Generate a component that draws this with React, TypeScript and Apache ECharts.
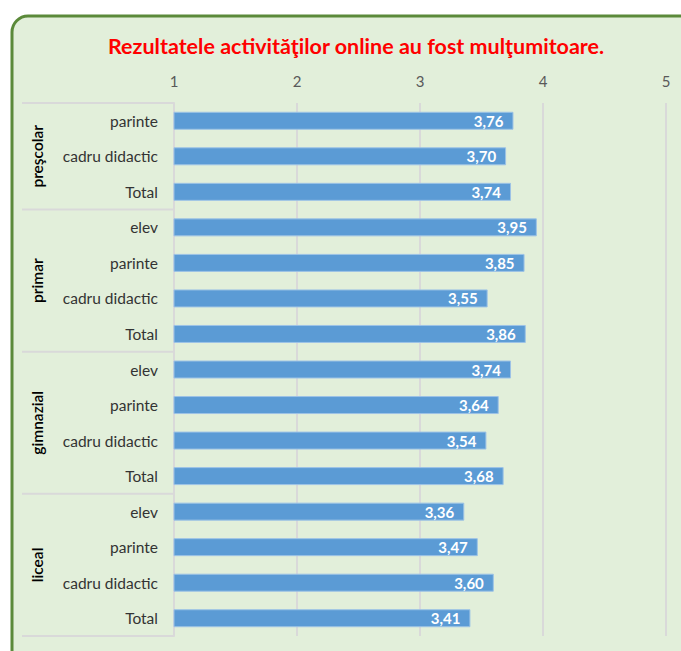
import React, { useEffect, useRef } from "react";
import * as echarts from "echarts";

const chartTitle = "Rezultatele activităţilor online au fost mulţumitoare.";
const groupNames = ["preşcolar", "primar", "gimnazial", "liceal"];
const prescolarCats = ["parinte", "cadru didactic", "Total"];
const prescolarVals = [3.76, 3.7, 3.74];
const primarCats = ["elev", "parinte", "cadru didactic", "Total"];
const primarVals = [3.95, 3.85, 3.55, 3.86];
const gimnazialCats = ["elev", "parinte", "cadru didactic", "Total"];
const gimnazialVals = [3.74, 3.64, 3.54, 3.68];
const licealCats = ["elev", "parinte", "cadru didactic", "Total"];
const licealVals = [3.36, 3.47, 3.6, 3.41];
const xMin = 1;
const xMax = 5;
const xInterval = 1;

const groupCats = [prescolarCats, primarCats, gimnazialCats, licealCats];
const groupVals = [prescolarVals, primarVals, gimnazialVals, licealVals];

const FONT = "Lato, 'Open Sans', sans-serif";

export default function App() {
  const ref = useRef<HTMLDivElement>(null);
  useEffect(() => {
    document.body.style.margin = "0";
    if (!ref.current) return;
    const chart = echarts.init(ref.current, undefined, { renderer: "svg" });

    const keys: string[] = [];
    const values: number[] = [];
    groupCats.forEach((cats, g) => {
      cats.forEach((c, i) => {
        keys.push(groupNames[g] + "|" + c);
        values.push(groupVals[g][i]);
      });
    });

    chart.setOption({
      animation: false,
      backgroundColor: "#ffffff",
      title: {
        text: chartTitle,
        left: 103,
        top: 30,
        textStyle: {
          color: "#FF0000",
          fontSize: 21.5,
          fontWeight: "bold",
          fontFamily: FONT,
        },
      },
      grid: { left: 174, right: 15, top: 103, bottom: 15, containLabel: false },
      xAxis: {
        type: "value",
        position: "top",
        min: xMin,
        max: xMax,
        interval: xInterval,
        axisLine: { show: false },
        axisTick: { show: false },
        axisLabel: {
          color: "#595959",
          fontSize: 15,
          fontFamily: FONT,
          margin: 15,
        },
        splitLine: { show: true, lineStyle: { color: "#D9D9D9", width: 2 } },
      },
      yAxis: {
        type: "category",
        inverse: true,
        data: keys,
        axisLine: { show: true, lineStyle: { color: "#D9D9D9", width: 2 } },
        axisTick: { show: false },
        axisLabel: {
          color: "#333333",
          fontSize: 15.5,
          fontFamily: FONT,
          margin: 16,
          formatter: (v: string) => v.split("|")[1],
        },
      },
      series: [
        {
          type: "bar",
          data: values,
          barWidth: 18,
          itemStyle: { color: "#5B9BD5", borderColor: "#9DC3E6", borderWidth: 1 },
          label: {
            show: true,
            position: "insideRight",
            distance: 10,
            color: "#ffffff",
            fontWeight: "bold",
            fontSize: 15,
            fontFamily: FONT,
            formatter: (p: any) => Number(p.value).toFixed(2).replace(".", ","),
          },
        },
      ],
    });

    const y0 = chart.convertToPixel({ yAxisIndex: 0 }, 0) as number;
    const y1 = chart.convertToPixel({ yAxisIndex: 0 }, 1) as number;
    const step = y1 - y0;
    const axisX = chart.convertToPixel({ xAxisIndex: 0 }, xMin) as number;
    const sepLeft = 22;

    const graphics: any[] = [
      {
        type: "rect",
        z: -100,
        silent: true,
        shape: { x: 12, y: 16, width: 720, height: 700, r: 16 },
        style: { fill: "#E2EFDA", stroke: "#5B8A3A", lineWidth: 3 },
      },
    ];
    let start = 0;
    const boundaries: number[] = [y0 - step / 2];
    groupCats.forEach((cats, g) => {
      const n = cats.length;
      const centerY = y0 + (start + n / 2 - 0.5) * step;
      graphics.push({
        type: "text",
        x: 37,
        y: centerY,
        rotation: Math.PI / 2,
        style: {
          text: groupNames[g],
          fill: "#000000",
          fontSize: 15.5,
          fontFamily: FONT,
          fontWeight: 600,
          align: "center",
          verticalAlign: "middle",
        },
      });
      start += n;
      boundaries.push(y0 + (start - 0.5) * step);
    });
    boundaries.forEach((by) => {
      graphics.push({
        type: "line",
        silent: true,
        shape: { x1: sepLeft, y1: by, x2: axisX, y2: by },
        style: { stroke: "#D9D9D9", lineWidth: 2 },
      });
    });

    chart.setOption({ graphic: graphics });

    return () => chart.dispose();
  }, []);
  return <div ref={ref} style={{ width: 681, height: 651 }} />;
}
